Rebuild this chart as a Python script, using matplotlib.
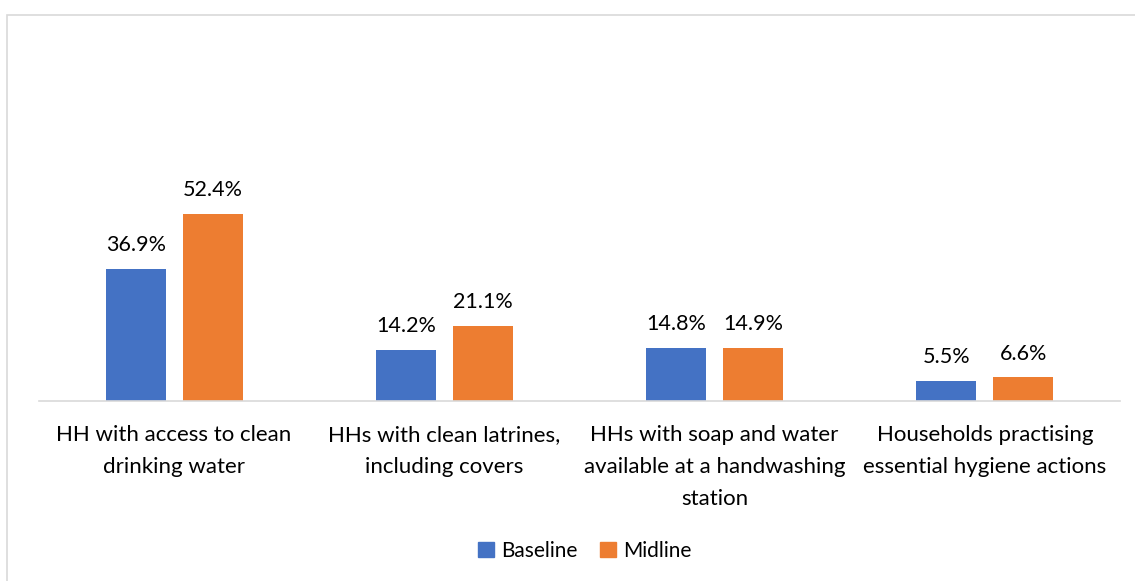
import matplotlib
matplotlib.use("Agg")
import matplotlib.pyplot as plt
from matplotlib.patches import Rectangle, Patch
import numpy as np

categories = [
    "HH with access to clean\ndrinking water",
    "HHs with clean latrines,\nincluding covers",
    "HHs with soap and water\navailable at a handwashing\nstation",
    "Households practising\nessential hygiene actions",
]
series_names = ["Baseline", "Midline"]
baseline = [36.9, 14.2, 14.8, 5.5]
midline = [52.4, 21.1, 14.9, 6.6]
colors = ["#4472C4", "#ED7D31"]

W, H = 1135, 581
plt.rcParams["font.family"] = ["Lato", "DejaVu Sans"]
fig = plt.figure(figsize=(W / 100, H / 100), dpi=100)

# outer chart frame (continues past the lower and right edges)
fig.patches.append(Rectangle((7 / W, -0.05), 1.1, 1 - 15 / H + 0.05,
                             transform=fig.transFigure, fill=False,
                             edgecolor="#D9D9D9", linewidth=1.2))

ymax = 60
x0, x1 = 39, 1120
y_base = 401
px_per_unit = 3.57
y_top = y_base - ymax * px_per_unit
ax = fig.add_axes([x0 / W, 1 - y_base / H, (x1 - x0) / W, (y_base - y_top) / H])
ax.set_xlim(0, len(categories))
ax.set_ylim(0, ymax)

x = np.arange(len(categories)) + 0.5
bw = 60 / 270.25
gap = 17 / 270.25
off = (bw + gap) / 2
b1 = ax.bar(x - off, baseline, bw, color=colors[0], label=series_names[0])
b2 = ax.bar(x + off, midline, bw, color=colors[1], label=series_names[1])

for bars, vals in ((b1, baseline), (b2, midline)):
    for r, v in zip(bars, vals):
        ax.annotate(f"{v:.1f}%", (r.get_x() + r.get_width() / 2, v),
                    xytext=(0, 10), textcoords="offset points",
                    ha="center", va="bottom", fontsize=15.5, color="#000000")

for s in ["top", "right", "left"]:
    ax.spines[s].set_visible(False)
ax.spines["bottom"].set_color("#D9D9D9")
ax.spines["bottom"].set_linewidth(1.2)
ax.set_yticks([])
ax.set_xticks(x)
ax.set_xticklabels(categories, fontsize=16, linespacing=1.75)
ax.tick_params(axis="x", length=0, pad=17)

handles = [Patch(color=c, label=n) for c, n in zip(colors, series_names)]
fig.legend(handles=handles, loc="center", bbox_to_anchor=(585 / W, 1 - 551 / H),
           ncol=2, frameon=False, fontsize=15, handlelength=0.75,
           handleheight=0.75, handletextpad=0.35, columnspacing=1.1)

fig.savefig("out.png", dpi=100, facecolor="white")
